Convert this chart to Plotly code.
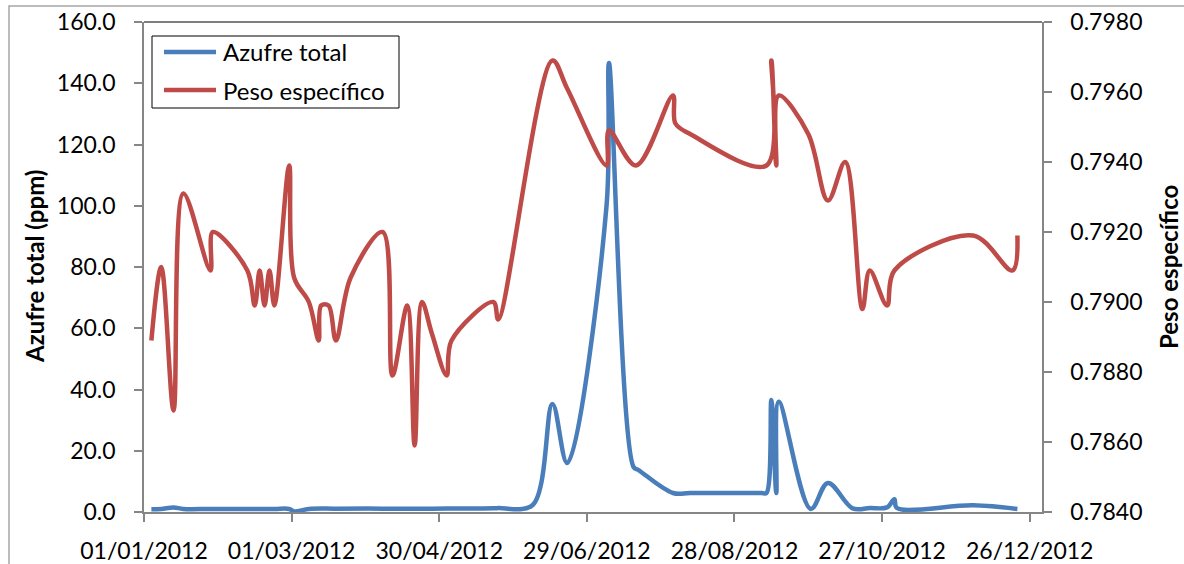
import plotly.graph_objects as go

# Sampling dates and results for each series
fechas_azufre = ["2012-01-04", "2012-01-08", "2012-01-13", "2012-01-17", "2012-01-28",
                 "2012-02-12", "2012-02-23", "2012-02-29", "2012-03-02", "2012-03-08",
                 "2012-03-19", "2012-04-07", "2012-04-27", "2012-05-22", "2012-05-24",
                 "2012-06-07", "2012-06-15", "2012-06-21", "2012-07-07", "2012-07-08",
                 "2012-07-18", "2012-07-20", "2012-08-03", "2012-08-10", "2012-08-25",
                 "2012-09-08", "2012-09-10", "2012-09-12", "2012-09-14", "2012-09-15",
                 "2012-09-28", "2012-10-05", "2012-10-15", "2012-10-22", "2012-10-29",
                 "2012-11-01", "2012-11-02", "2012-12-03", "2012-12-21"]
azufre_total = [0.9, 1.0, 1.5, 1.0, 1.0,
                1.0, 1.0, 1.0, 0.2, 1.0,
                1.1, 1.1, 1.1, 1.2, 1.3,
                2.3, 35.3, 16.0, 100.0, 146.6,
                14.7, 13.7, 6.2, 6.2, 6.2,
                6.2, 6.2, 36.6, 6.2, 36.0,
                1.0, 9.5, 1.2, 1.3, 1.5,
                4.2, 1.3, 2.2, 1.0]

fechas_peso = ["2012-01-04", "2012-01-08", "2012-01-13", "2012-01-17", "2012-01-28",
               "2012-01-29", "2012-02-12", "2012-02-15", "2012-02-17", "2012-02-19",
               "2012-02-21", "2012-02-23", "2012-02-29", "2012-03-02", "2012-03-08",
               "2012-03-12", "2012-03-13", "2012-03-16", "2012-03-19", "2012-03-25",
               "2012-04-07", "2012-04-11", "2012-04-17", "2012-04-20", "2012-04-23",
               "2012-04-27", "2012-05-03", "2012-05-05", "2012-05-22", "2012-05-24",
               "2012-06-15", "2012-06-21", "2012-07-07", "2012-07-08", "2012-07-19",
               "2012-08-03", "2012-08-04", "2012-08-10", "2012-09-10", "2012-09-12",
               "2012-09-14", "2012-09-15", "2012-09-27", "2012-10-05", "2012-10-12",
               "2012-10-19", "2012-10-22", "2012-10-29", "2012-11-01", "2012-12-03",
               "2012-12-19", "2012-12-21"]
peso_especifico = [0.7889, 0.7910, 0.7869, 0.7931, 0.7909,
                   0.7920, 0.7909, 0.7899, 0.7909, 0.7899,
                   0.7909, 0.7899, 0.7939, 0.7907, 0.7900,
                   0.7889, 0.7899, 0.7899, 0.7889, 0.7907,
                   0.7920, 0.7879, 0.7899, 0.7859, 0.7900,
                   0.7891, 0.7879, 0.7889, 0.7900, 0.7895,
                   0.7969, 0.7961, 0.7939, 0.7949, 0.7939,
                   0.7959, 0.7951, 0.7948, 0.7939, 0.7969,
                   0.7939, 0.7959, 0.7948, 0.7929, 0.7940,
                   0.7898, 0.7909, 0.7899, 0.7909, 0.7919,
                   0.7909, 0.7919]

series = ["Azufre total", "Peso específico"]

AZUL = "#4A7EBB"
ROJO = "#BE4B48"
GRIS = "#868686"
FUENTE = "Lato"


def px_x(px):
    """Horizontal pixel of the 1184x564 canvas -> paper fraction of the plot area."""
    return (px - 144) / 898


def px_y(py):
    """Vertical pixel of the canvas -> paper fraction of the plot area."""
    return (512 - py) / 490


fig = go.Figure()
fig.add_trace(go.Scatter(
    x=fechas_azufre, y=azufre_total, name=series[0], mode="lines",
    line=dict(color=AZUL, width=4.5, shape="spline", smoothing=1),
    yaxis="y", showlegend=False,
))
fig.add_trace(go.Scatter(
    x=fechas_peso, y=peso_especifico, name=series[1], mode="lines",
    line=dict(color=ROJO, width=4.5, shape="spline", smoothing=1),
    yaxis="y2", showlegend=False,
))

eje = dict(showgrid=False, zeroline=False, showline=True, linecolor=GRIS, linewidth=1.5,
           ticks="outside", ticklen=8, tickwidth=1.5, tickcolor=GRIS, automargin=False,
           tickfont=dict(family=FUENTE, size=23, color="black"))

# legend box drawn as a framed key in the upper-left corner
leyenda_shapes = [
    dict(type="rect", xref="paper", yref="paper",
         x0=px_x(152), x1=px_x(399), y0=px_y(108), y1=px_y(36),
         line=dict(color="black", width=1), fillcolor="white", layer="above"),
]
leyenda_textos = []
for nombre, color, fila in zip(series, [AZUL, ROJO], [52, 90]):
    leyenda_shapes.append(dict(type="line", xref="paper", yref="paper",
                               x0=px_x(164), x1=px_x(216), y0=px_y(fila), y1=px_y(fila),
                               line=dict(color=color, width=4.5), layer="above"))
    leyenda_textos.append(dict(text=nombre, xref="paper", yref="paper",
                               x=px_x(221), y=px_y(fila), xanchor="left", yanchor="middle",
                               showarrow=False,
                               font=dict(family=FUENTE, size=24, color="black")))

fig.update_layout(
    width=1184, height=564,
    margin=dict(l=144, r=142, t=22, b=52, autoexpand=False),
    paper_bgcolor="white", plot_bgcolor="white",
    font=dict(family=FUENTE, size=23, color="black"),
    showlegend=False,
    xaxis=dict(type="date", range=["2012-01-01", "2012-12-31"], tick0="2012-01-01",
               dtick=60 * 86400000, tickformat="%d/%m/%Y", ticklabelstandoff=10, **eje),
    yaxis=dict(range=[0, 160], tick0=0, dtick=20, tickformat=".1f",
               ticklabelstandoff=14, **eje),
    yaxis2=dict(range=[0.784, 0.798], tick0=0.784, dtick=0.002, tickformat=".4f",
                overlaying="y", side="right", ticklabelstandoff=14, **eje),
    shapes=[
        # top edge of the plot area
        dict(type="line", xref="paper", yref="paper", x0=0, x1=1, y0=1, y1=1,
             line=dict(color="black", width=1.2)),
        # chart area frame
        dict(type="rect", xref="paper", yref="paper",
             x0=px_x(9), x1=px_x(1195), y0=px_y(575), y1=px_y(6),
             line=dict(color="#A6A6A6", width=1.5), layer="below"),
    ] + leyenda_shapes,
    annotations=[
        dict(text="Azufre total (ppm)", xref="paper", yref="paper", x=px_x(34), y=0.5,
             textangle=-90, showarrow=False, xanchor="center", yanchor="middle",
             font=dict(family=FUENTE, size=24, weight="bold", color="black")),
        dict(text="Peso específico", xref="paper", yref="paper", x=px_x(1168), y=0.5,
             textangle=-90, showarrow=False, xanchor="center", yanchor="middle",
             font=dict(family=FUENTE, size=24, weight="bold", color="black")),
    ] + leyenda_textos,
)

fig.write_html("out.html")
